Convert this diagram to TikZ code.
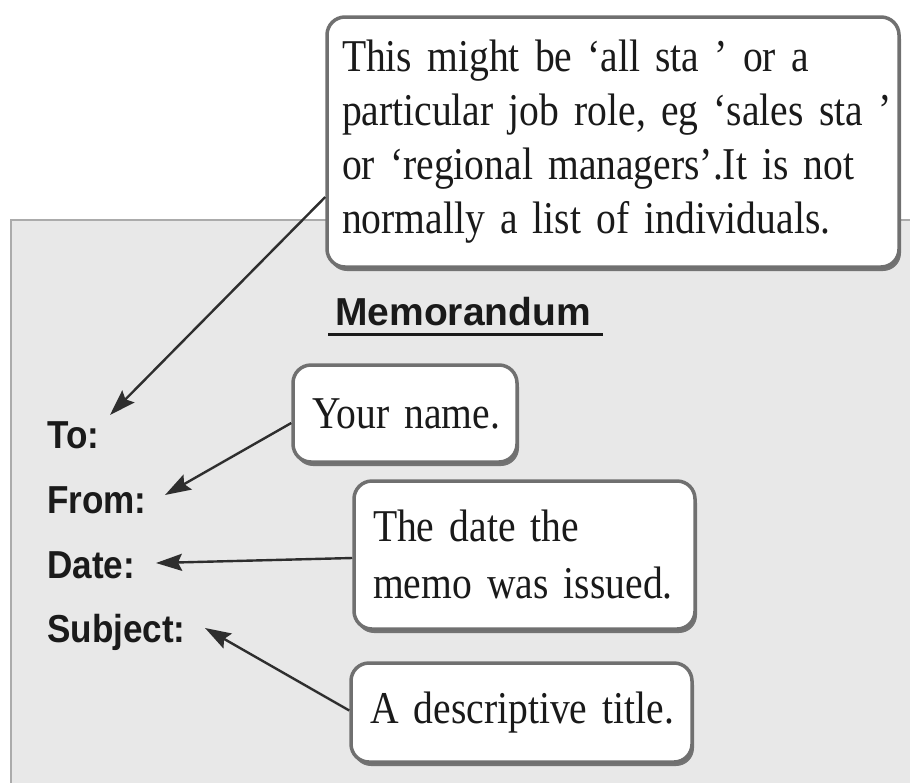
\documentclass[tikz,border=0pt]{standalone}
\usepackage{fontspec}
\setmainfont{Liberation Serif}[FakeStretch=0.87]
\newfontfamily\lblfont{Liberation Sans}[FakeStretch=0.9]
\newfontfamily\ttlfont{Liberation Sans}
\usetikzlibrary{arrows.meta,shadows}
\definecolor{panelfill}{HTML}{E8E8E8}
\definecolor{panelline}{HTML}{ABABAB}
\definecolor{boxline}{HTML}{707070}
\definecolor{ink}{HTML}{1A1A1A}
\definecolor{arrowcol}{HTML}{2E2E2E}
\begin{document}
\begin{tikzpicture}[x=1pt,y=-1pt,
  callout/.style={draw=boxline, line width=3.5pt, fill=white, rounded corners=18pt,
    align=left, inner ysep=0pt, text=ink,
    drop shadow={shadow xshift=2pt, shadow yshift=-4pt, opacity=0.5, fill=black}},
  fieldlbl/.style={anchor=base west, inner sep=0pt, text=ink,
    font=\lblfont\bfseries\fontsize{39}{39}\selectfont},
  pointer/.style={draw=arrowcol, line width=2.4pt,
    -{Stealth[length=26pt,width=17pt,inset=4pt]}}]
\useasboundingbox (0,0) rectangle (910,782);
\fill[white] (0,0) rectangle (910,782);
% memo panel
\draw[fill=panelfill, draw=panelline, line width=2pt] (11,220) rectangle (925,800);

% title
\node[anchor=base west, inner sep=0pt, text=ink, font=\ttlfont\bfseries\fontsize{39}{39}\selectfont] (memo) at (335,325) {Memorandum};
\draw[ink, line width=3pt] ([xshift=-7pt,yshift=-9pt]memo.base west) -- ([xshift=12pt,yshift=-9pt]memo.base east);

% field labels
\node[fieldlbl] (to) at (47,448) {To:};
\node[fieldlbl] (from) at (47,513) {From:};
\node[fieldlbl] (date) at (47,578) {Date:};
\node[fieldlbl] (subj) at (47,642) {Subject:};

% callouts
\node[callout, minimum width=572pt, minimum height=250pt, text width=542pt, inner xsep=15pt,
  font=\fontsize{45.5}{54}\selectfont] (topbox) at (613,142)
  {\mbox{This might be ‘all sta ’ or a}\\
   \mbox{particular job role, eg ‘sales sta ’}\\
   \mbox{or ‘regional managers’.It is not}\\
   \mbox{normally a list of individuals.}};
\node[callout, minimum width=224pt, minimum height=97pt, text width=186pt, inner xsep=19pt,
  font=\fontsize{45.5}{54}\selectfont] (namebox) at (405,413.5)
  {\mbox{Your name.}};
\node[callout, minimum width=341pt, minimum height=148pt, text width=303pt, inner xsep=19pt,
  font=\fontsize{45.5}{57}\selectfont] (datebox) at (524.5,555)
  {\mbox{The date the}\\ \mbox{memo was issued.}};
\node[callout, minimum width=341pt, minimum height=99pt, text width=303pt, inner xsep=19pt,
  font=\fontsize{45.5}{54}\selectfont] (descbox) at (521.5,712.5)
  {\mbox{A descriptive title.}};

% arrow tips
\coordinate (toTip) at (110,415);
\coordinate (fromTip) at (165,495);
\coordinate (dateTip) at (156,563);
\coordinate (subjTip) at (205,628);

\draw[pointer] ([yshift=-55pt]topbox.west) -- (toTip);
\draw[pointer] ([yshift=-9.5pt]namebox.west) -- (fromTip);
\draw[pointer] ([yshift=-3pt]datebox.west) -- (dateTip);
\draw[pointer] ([yshift=2pt]descbox.west) -- (subjTip);
\end{tikzpicture}
\end{document}
